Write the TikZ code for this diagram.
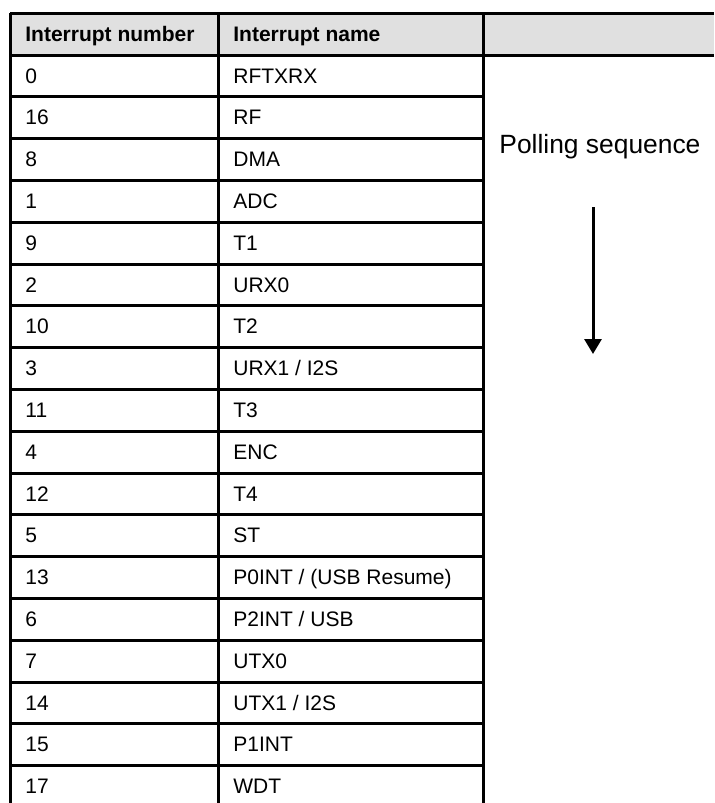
\documentclass[tikz,border=0pt]{standalone}
\usepackage{fontspec}
\setmainfont{Liberation Sans}
\usetikzlibrary{arrows.meta}
\definecolor{headgray}{HTML}{E0E0E0}
\tikzset{
	rule/.style={line width=1.5pt},
	cell/.style={anchor=base west,inner sep=0pt,font=\fontsize{10.5}{12}\selectfont},
	headcell/.style={cell,font=\fontsize{10.5}{12}\selectfont\bfseries}
}
\begin{document}
\begin{tikzpicture}[x=0.5pt,y=-0.5pt]
	\useasboundingbox (0,0) rectangle (714,803); % Fixes the page size...
		\fill[headgray] (10,13) rectangle (714,55);
		\coordinate (TopLeft)   at (10,13);
		\coordinate (TopRight)  at (714,13);
		\coordinate (HeadLeft)  at (10,55);
		\coordinate (HeadRight) at (714,55);
		\draw[rule] (TopLeft) -- (TopRight);% Top rule
		\draw[rule] (HeadLeft) -- (HeadRight);% Header rule

		\node[headcell] (head-num)  at (25,41)  {Interrupt number};
		\node[headcell] (head-name) at (233,41) {Interrupt name};

		\foreach \Num/\Name [count=\i from 0] in {0/RFTXRX,16/RF,8/DMA,1/ADC,9/T1,2/URX0,10/T2,3/{URX1 / I2S},11/T3,4/ENC,12/T4,5/ST,13/{P0INT / (USB Resume)},6/{P2INT / USB},7/UTX0,14/{UTX1 / I2S},15/P1INT,17/WDT}{
			\node[cell] (num-\i)  at (25,55+\i*41.8+28) {\Num};
			\node[cell] (name-\i) at (233,55+\i*41.8+28) {\Name};
		}
		\foreach \k in {1,...,17}{\draw[rule] (10,55+\k*41.8) -- (483,55+\k*41.8);}

		\draw[rule] (10,13) -- (10,803);% Left border
		\draw[rule] (218,13) -- (218,803);% Column divider
		\draw[rule] (483,13) -- (483,803);% Right column divider

		\node[anchor=base west,inner sep=0pt,font=\fontsize{13.2}{15}\selectfont] (poll) at (499,153) {Polling sequence};
		\coordinate (ArrowTop) at (593,207);
		\coordinate (ArrowTip) at (593,354);
		\draw[rule,-{Triangle[length=7.5pt,width=8.5pt]}] (ArrowTop) -- (ArrowTip);
	\end{tikzpicture}
\end{document}
